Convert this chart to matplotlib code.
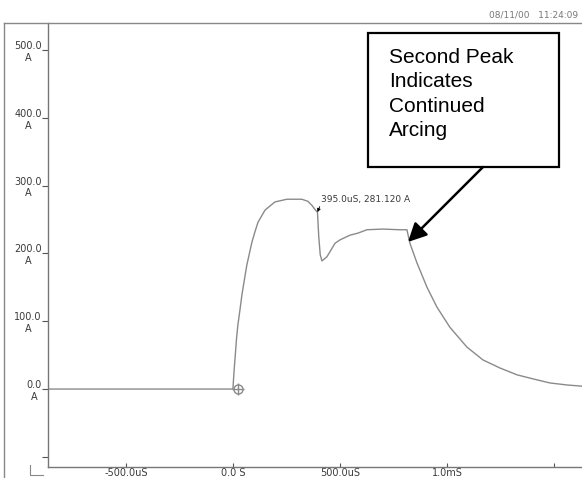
import matplotlib.pyplot as plt
from matplotlib.patches import Rectangle
from matplotlib.lines import Line2D

# trace (time in microseconds, current in A)
time_us = [-860, 0, 5, 17, 23, 33, 42, 65, 89, 103, 117, 150, 173, 196, 224, 252, 290,
           322, 350, 369, 388, 395, 401, 408, 416, 439, 458, 477, 500, 547, 584, 626,
           701, 780, 813, 827, 860, 907, 953, 1014, 1093, 1168, 1248, 1327, 1402,
           1481, 1561, 1640]
current_a = [0, 0, 25, 75, 94, 117, 139, 183, 217, 232, 246, 264, 270, 276, 278, 280,
             280, 280, 277, 271, 263, 261, 225, 198, 189, 195, 205, 215, 220, 227,
             230, 235, 236, 235, 235, 215, 186, 150, 121, 91, 62, 43, 31, 21, 15,
             9, 6, 4]

yticks = [-100, 0, 100, 200, 300, 400, 500]
ytick_labels = ['', '0.0\nA', '100.0\nA', '200.0\nA', '300.0\nA', '400.0\nA', '500.0\nA']
xticks = [-500, 0, 500, 1000, 1500]
xtick_labels = ['-500.0uS', '0.0 S', '500.0uS', '1.0mS', '']

cursor_t, cursor_i = 395, 261
cursor_text = '395.0uS, 281.120 A'
trigger_t = 23
note = 'Second Peak\nIndicates\nContinued\nArcing'
stamp = '08/11/00   11:24:09'

W, H = 582, 478
fig = plt.figure(figsize=(W / 100, H / 100), dpi=100)
ax = fig.add_axes([48 / W, 1 - 467 / H, 1 - 48 / W, (467 - 23) / H])

gray = '#8a8a8a'
txt = '#3a3a3a'
ax.plot(time_us, current_a, color=gray, lw=1.0)
# trigger marker
ax.plot([trigger_t], [0], marker='o', ms=6.5, mfc='none', mec=gray, mew=1.0)
ax.plot([trigger_t], [0], marker='+', ms=9, mec=gray, mew=1.0)

ax.set_xlim(-864, 1631)
ax.set_ylim(-115, 540)
ax.set_yticks(yticks)
ax.set_yticklabels(ytick_labels, multialignment='center')
ax.set_xticks(xticks)
ax.set_xticklabels(xtick_labels)
ax.tick_params(axis='y', direction='out', length=4, width=0.8, pad=0.5,
               labelsize=7, labelcolor=txt, color='#555555')
ax.tick_params(axis='x', direction='in', length=3, width=0.8, pad=1,
               labelsize=7, labelcolor=txt, color='#555555')
for s in ['top', 'right']:
    ax.spines[s].set_visible(False)
for s in ['left', 'bottom']:
    ax.spines[s].set_color('#777777')
    ax.spines[s].set_linewidth(1.0)

ax.annotate(cursor_text, xy=(cursor_t, cursor_i), xytext=(411, 280),
            fontsize=6.5, color=txt, va='center', ha='left',
            arrowprops=dict(arrowstyle='-|>', color='k', lw=0.6, mutation_scale=5,
                            shrinkA=0, shrinkB=0, relpos=(0, 0)))

# outer frame of the printout
fig.add_artist(Line2D([4 / W, 4 / W], [0, 1 - 23 / H], color='#888888', lw=1.0,
                      transform=fig.transFigure))
fig.add_artist(Line2D([4 / W, 1], [1 - 23 / H, 1 - 23 / H], color='#888888', lw=1.0,
                      transform=fig.transFigure))
fig.add_artist(Line2D([30 / W, 30 / W, 43 / W], [1 - 465 / H, 1 - 475 / H, 1 - 475 / H],
                      color='#888888', lw=0.8, transform=fig.transFigure))
fig.text(578 / W, 1 - 15 / H, stamp, fontsize=6.5, color='#777777', ha='right', va='center')

# callout box
fig.add_artist(Rectangle((368 / W, 1 - 167 / H), 191 / W, 134 / H, fill=False,
                         ec='k', lw=1.6, transform=fig.transFigure))
fig.text(389 / W, 1 - 48 / H, note, fontsize=15, family='Liberation Sans',
         ha='left', va='top', linespacing=1.36)
ax.annotate('', xy=(818, 217), xycoords='data', xytext=(483, H - 167),
            textcoords='figure pixels',
            arrowprops=dict(arrowstyle='-|>', color='k', lw=1.8, mutation_scale=28,
                            shrinkA=0, shrinkB=0))

fig.savefig('out.png', dpi=100)
